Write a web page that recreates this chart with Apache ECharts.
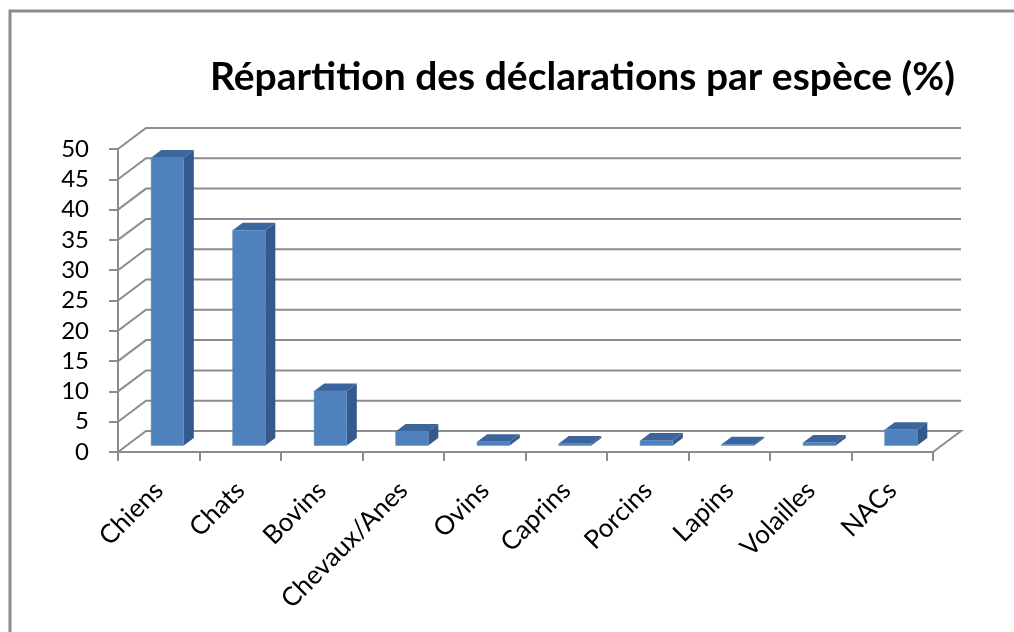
<!DOCTYPE html>
<html>
<head>
<meta charset="utf-8">
<script src="https://cdn.jsdelivr.net/npm/echarts@6/dist/echarts.min.js"></script>
<style>
  html, body { margin: 0; padding: 0; background: #fff; }
  #chart { width: 1014px; height: 632px; }
</style>
</head>
<body>
<div id="chart"></div>
<script>
// données du graphique
const categories = ['Chiens', 'Chats', 'Bovins', 'Chevaux/Anes', 'Ovins', 'Caprins', 'Porcins', 'Lapins', 'Volailles', 'NACs']
const values = [47.5, 35.5, 9, 2.3, 0.6, 0.3, 0.8, 0.2, 0.5, 2.6]
const yTicks = [0, 5, 10, 15, 20, 25, 30, 35, 40, 45, 50]
const titleText = 'Répartition des déclarations par espèce (%)'

// décalage de la perspective (mur du fond)
const DX = 28
const DY = -21
const LINE = '#8c8c8c'
const FONT = 'Lato'

const chart = echarts.init(document.getElementById('chart'))

// mur du fond : lignes de grille + diagonales
const renderWall = (params, api) => {
  const v = api.value(1)
  const p = api.coord([0, v])
  const band = api.size([1, 0])[0]
  const left = p[0] - band / 2
  const right = api.coord([categories.length - 1, v])[0] + band / 2
  const pts = [[left, p[1]], [left + DX, p[1] + DY], [right + DX, p[1] + DY]]
  if (v === 0) pts.push([right, p[1]])
  return {
    type: 'polyline',
    shape: { points: pts },
    style: { stroke: LINE, lineWidth: 2, fill: null }
  }
}

// barres 3D
const renderBar = (params, api) => {
  const i = api.value(0)
  const v = api.value(1)
  const base = api.coord([i, 0])
  const top = api.coord([i, v])
  const band = api.size([1, 0])[0]
  const w = band * 0.4
  const f = 0.31
  const b = 0.67
  const fx = DX * f, fy = DY * f
  const ddx = DX * (b - f), ddy = DY * (b - f)
  const x0 = base[0] - w / 2 + fx
  const yTop = top[1] + fy
  const yBot = base[1] + fy
  return {
    type: 'group',
    children: [
      {
        type: 'polygon',
        shape: { points: [[x0 + w, yTop], [x0 + w + ddx, yTop + ddy], [x0 + w + ddx, yBot + ddy], [x0 + w, yBot]] },
        style: { fill: '#34598a' }
      },
      {
        type: 'polygon',
        shape: { points: [[x0, yTop], [x0 + ddx, yTop + ddy], [x0 + w + ddx, yTop + ddy], [x0 + w, yTop]] },
        style: { fill: '#3b659c' }
      },
      {
        type: 'rect',
        shape: { x: x0, y: yTop, width: w, height: yBot - yTop },
        style: { fill: '#4f81bd', stroke: '#5b8cc6', lineWidth: 0.5 }
      }
    ]
  }
}

const option = {
  animation: false,
  backgroundColor: '#fff',
  title: {
    text: titleText,
    left: 205,
    top: 53,
    textStyle: { fontFamily: FONT, fontSize: 39, fontWeight: 'bold', color: '#000' }
  },
  graphic: [
    {
      type: 'rect',
      shape: { x: 10, y: 11, width: 1100, height: 700 },
      style: { fill: null, stroke: '#8c8c8c', lineWidth: 3 },
      silent: true
    }
  ],
  grid: {
    left: 118,
    top: 149,
    width: 815,
    height: 303,
    containLabel: false
  },
  xAxis: {
    type: 'category',
    data: categories,
    boundaryGap: true,
    axisLine: { show: true, lineStyle: { color: LINE, width: 2 } },
    axisTick: { show: true, length: 9, lineStyle: { color: LINE, width: 2 } },
    axisLabel: {
      interval: 0,
      rotate: 45,
      margin: 34,
      color: '#000',
      fontFamily: FONT,
      fontSize: 26
    }
  },
  yAxis: {
    type: 'value',
    min: 0,
    max: 50,
    interval: 5,
    axisLine: { show: true, lineStyle: { color: LINE, width: 2 } },
    axisTick: { show: true, length: 9, lineStyle: { color: LINE, width: 2 } },
    axisLabel: {
      margin: 29,
      color: '#000',
      fontFamily: FONT,
      fontSize: 24
    },
    splitLine: { show: false }
  },
  series: [
    {
      type: 'custom',
      name: 'mur',
      renderItem: renderWall,
      data: yTicks.map(v => [0, v]),
      z: 1,
      silent: true
    },
    {
      type: 'custom',
      name: 'Répartition',
      renderItem: renderBar,
      data: values.map((v, i) => [i, v]),
      z: 3
    }
  ]
}

chart.setOption(option)
</script>
</body>
</html>
